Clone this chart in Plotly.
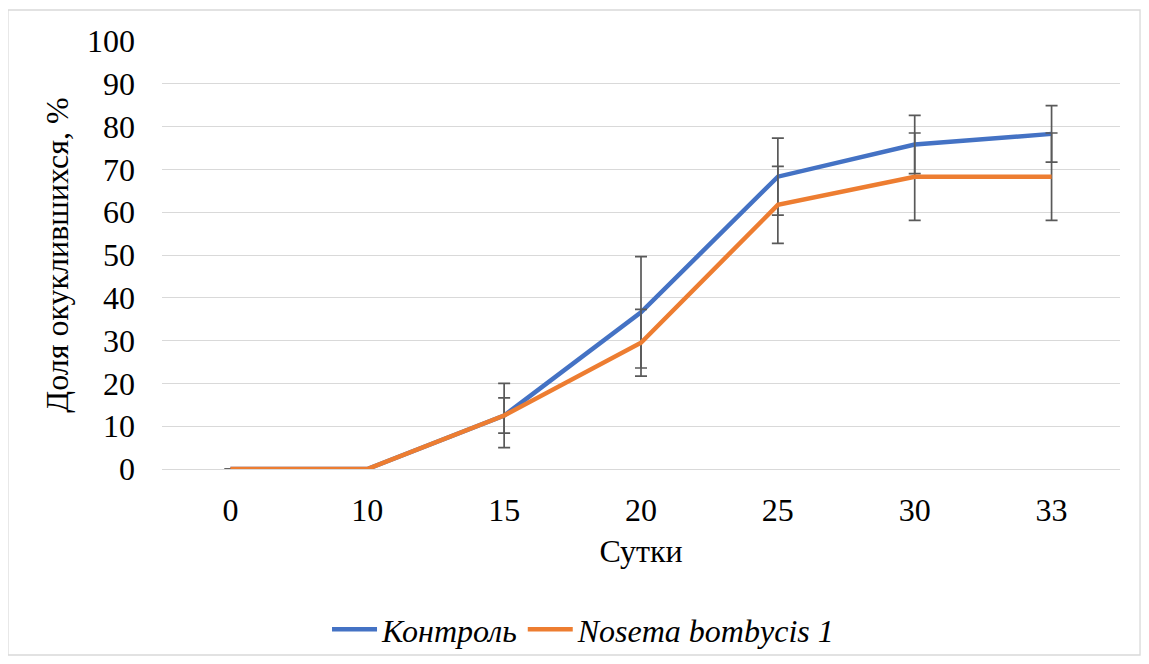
import plotly.graph_objects as go

days = ["0", "10", "15", "20", "25", "30", "33"]
control = [0, 0, 12.5, 36.6, 68.3, 75.8, 78.3]
control_err = [0, 0, 7.5, 13.0, 9.0, 6.8, 6.6]
nosema = [0, 0, 12.5, 29.5, 61.7, 68.3, 68.3]
nosema_err = [0, 0, 4.1, 7.8, 9.0, 10.2, 10.2]

FONT = "Liberation Serif"
FS = 32
err_style = dict(type="data", visible=True, color="#595959", thickness=1.7, width=6)

fig = go.Figure()
fig.add_trace(go.Scatter(
    x=days, y=control, mode="lines", name="<i>Контроль</i>",
    line=dict(color="#4472C4", width=4.5),
    error_y=dict(array=control_err, **err_style),
))
fig.add_trace(go.Scatter(
    x=days, y=nosema, mode="lines", name="<i>Nosema bombycis 1</i>",
    line=dict(color="#ED7D31", width=4.5),
    error_y=dict(array=nosema_err, **err_style),
))

# page body has an 8px default margin, so the figure is offset by 8px
fig.update_layout(
    width=1141, height=656,
    paper_bgcolor="white", plot_bgcolor="white",
    margin=dict(l=154, r=29, t=33, b=195, autoexpand=False),
    font=dict(family=FONT, size=FS, color="black"),
    showlegend=True,
    legend=dict(orientation="h", x=0.44, xanchor="center", y=-0.375, yanchor="middle",
                bgcolor="rgba(0,0,0,0)",
                font=dict(family=FONT, size=FS), itemwidth=45, tracegroupgap=0),
    xaxis=dict(type="category", range=[-0.5, 6.5], showgrid=False, showline=False, ticks="",
               tickfont=dict(family=FONT, size=FS), ticklen=0, ticklabelstandoff=19,
               title=dict(text="Сутки", font=dict(family=FONT, size=FS), standoff=12)),
    yaxis=dict(range=[0, 100], dtick=10, showgrid=True, gridcolor="#D9D9D9", gridwidth=1.3,
               zeroline=True, zerolinecolor="#D9D9D9", zerolinewidth=1.3,
               showline=False, ticks="", tickfont=dict(family=FONT, size=FS),
               ticklabelstandoff=26,
               title=dict(text="Доля окуклившихся, %", font=dict(family=FONT, size=FS), standoff=8)),
    shapes=[dict(type="rect", xref="paper", yref="paper",
                 x0=-0.1608, x1=1.0209, y0=-0.4346, y1=1.0724,
                 line=dict(color="#D9D9D9", width=1.3), fillcolor="rgba(0,0,0,0)", layer="below")],
)

fig.write_html("out.html")
